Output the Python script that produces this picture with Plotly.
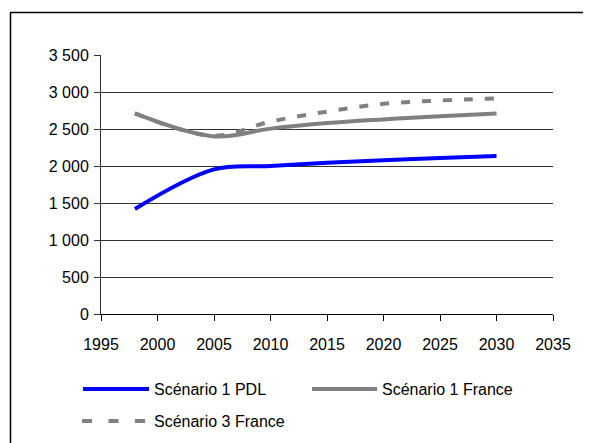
import plotly.graph_objects as go

# ---- data ----
years = [1998, 2005, 2010, 2015, 2020, 2025, 2030]
scen1_pdl = [1420, 1955, 2000, 2045, 2078, 2108, 2135]
scen1_france = [2710, 2400, 2505, 2580, 2630, 2672, 2710]
scen3_france = [2710, 2410, 2600, 2735, 2840, 2885, 2915]
series_names = ["Scénario 1 PDL", "Scénario 1 France", "Scénario 3 France"]
x_ticks = [1995, 2000, 2005, 2010, 2015, 2020, 2025, 2030, 2035]
y_ticks = [0, 500, 1000, 1500, 2000, 2500, 3000, 3500]

# page body has an 8px margin: figure is offset by (8, 8) in the window
OFF = 8
W, H = 591 - OFF, 443 - OFF
PW, PH = 452, 259
L, T = 101 - OFF, 55 - OFF
R, B = W - L - PW, H - T - PH

def px(xw):
    # window pixel x -> paper coordinate
    return (xw - OFF - L) / PW

def py(yw):
    return (T + PH - (yw - OFF)) / PH

FONT = "Liberation Sans, Arial, sans-serif"
BLUE = "#0000FF"
GRAY = "#808080"

fig = go.Figure()
fig.add_trace(go.Scatter(x=years, y=scen1_pdl, mode="lines", name=series_names[0],
                         line=dict(color=BLUE, width=4, shape="spline", smoothing=1.0)))
fig.add_trace(go.Scatter(x=years, y=scen1_france, mode="lines", name=series_names[1],
                         line=dict(color=GRAY, width=4, shape="spline", smoothing=1.0)))
fig.add_trace(go.Scatter(x=years, y=scen3_france, mode="lines", name=series_names[2],
                         line=dict(color=GRAY, width=4, shape="spline", smoothing=1.0,
                                   dash="9px,12px")))

shapes = []
annotations = []
# outer frame (left and top borders)
shapes.append(dict(type="line", xref="paper", yref="paper",
                   x0=px(10.5), x1=px(10.5), y0=py(12.5), y1=py(443),
                   line=dict(color="black", width=1.5)))
shapes.append(dict(type="line", xref="paper", yref="paper",
                   x0=px(10), x1=px(591), y0=py(12.5), y1=py(12.5),
                   line=dict(color="black", width=1.5)))

# custom legend
leg = [
    (83, 149, 389, BLUE, "solid", 151.5, series_names[0]),
    (312, 377, 389, GRAY, "solid", 380, series_names[1]),
    (82, 146, 421, GRAY, "10px,16.5px", 151.5, series_names[2]),
]
for x0, x1, yy, col, dash, tx, name in leg:
    shapes.append(dict(type="line", xref="paper", yref="paper",
                       x0=px(x0), x1=px(x1), y0=py(yy), y1=py(yy),
                       line=dict(color=col, width=4, dash=dash)))
    annotations.append(dict(xref="paper", yref="paper", x=px(tx), y=py(yy),
                            xanchor="left", yanchor="middle", showarrow=False,
                            text=name, font=dict(family=FONT, size=16, color="black")))

fig.update_layout(
    width=W, height=H,
    margin=dict(l=L, r=R, t=T, b=B),
    paper_bgcolor="white", plot_bgcolor="white",
    showlegend=False,
    separators=", ",
    font=dict(family=FONT, size=16, color="black"),
    shapes=shapes,
    annotations=annotations,
    xaxis=dict(range=[1995, 2035], tickvals=x_ticks, ticks="outside", ticklen=6,
               tickcolor="black", tickwidth=1, showline=True, linecolor="black",
               linewidth=1, showgrid=False, zeroline=False, ticklabelstandoff=10,
               tickfont=dict(family=FONT, size=16, color="black")),
    yaxis=dict(range=[0, 3500], tickvals=y_ticks, tickformat=",d", ticks="outside",
               ticklen=6, tickcolor="#333", tickwidth=1, showline=True, linecolor="#333",
               linewidth=1, showgrid=True, gridcolor="#333", gridwidth=1,
               zeroline=False, ticklabelstandoff=2,
               tickfont=dict(family=FONT, size=16, color="black")),
)

fig.write_html("out.html")
